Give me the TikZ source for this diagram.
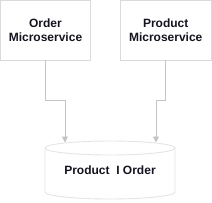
\documentclass[tikz,border=0pt]{standalone}
\usepackage{fontspec}
\setmainfont{Liberation Sans}
\usetikzlibrary{arrows.meta}
\definecolor{boxline}{HTML}{DADADA}
\definecolor{dbline}{HTML}{E4E4E4}
\definecolor{arrowline}{HTML}{C4C4C4}
\definecolor{txt}{HTML}{141420}
\begin{document}
\begin{tikzpicture}[x=1pt,y=1pt,
  svcbox/.style={draw=boxline, line width=0.9pt, minimum width=89.5pt, minimum height=60pt,
    inner sep=0pt, align=center, text=txt, font=\fontsize{12}{14}\selectfont\bfseries},
  dblabel/.style={inner sep=0pt, text=txt, font=\fontsize{12}{14}\selectfont\bfseries},
  dbshape/.style={draw=dbline, line width=0.9pt},
  conn/.style={draw=arrowline, line width=0.9pt, -{Triangle[width=6pt,length=6pt]}}]
\useasboundingbox (0,0) rectangle (212,-202);
\node[svcbox] (order) at (45.5,-30) {Order\\Microservice};
\node[svcbox, minimum width=90.5pt] (product) at (165.7,-30) {Product\\Microservice};
% cylinder
\draw[dbshape] (110,-148) ellipse [x radius=65pt, y radius=7pt];
\draw[dbshape] (45,-148) -- (45,-192) arc[start angle=180, end angle=360, x radius=65pt, y radius=7pt] -- (175,-148);
\node[dblabel] (db) at (110,-170) {Product~ I Order};
\coordinate (t1) at (65,-142.5);
\coordinate (t2) at (156,-142.5);
\draw[conn] (order.south) -- ++(0,-40) -| (t1);
\draw[conn] (product.south) -- ++(0,-40) -| (t2);
\end{tikzpicture}
\end{document}
